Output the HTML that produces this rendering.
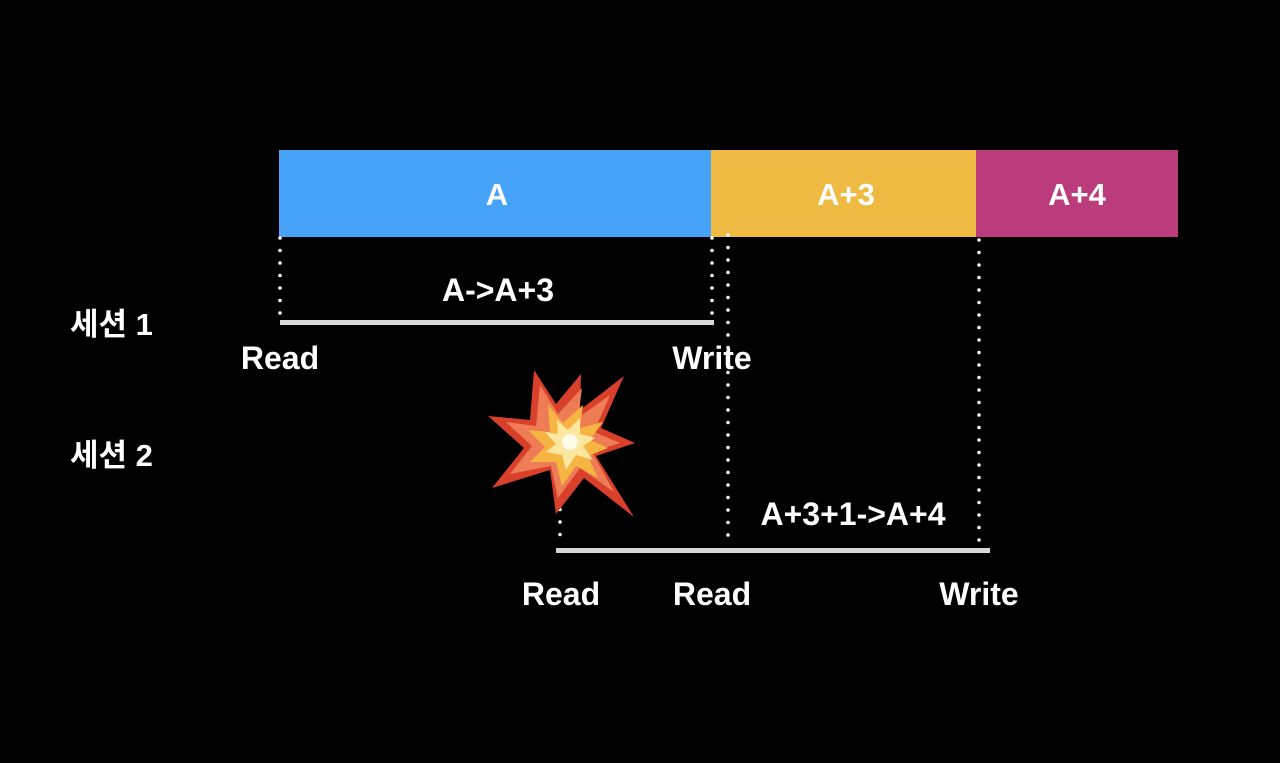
<!DOCTYPE html>
<html><head><meta charset="utf-8"><style>
html,body{margin:0;padding:0;background:#000;width:1280px;height:763px;overflow:hidden}
svg text{font-family:"Liberation Sans","Noto Sans CJK KR",sans-serif;font-weight:bold;fill:#fff}
</style></head><body>
<svg width="1280" height="763" viewBox="0 0 1280 763" xmlns="http://www.w3.org/2000/svg">
<rect x="279" y="150" width="432" height="87" fill="#47a3f7"/>
<rect x="711" y="150" width="265" height="87" fill="#efba41"/>
<rect x="976" y="150" width="202" height="87" fill="#bb3c7a"/>
<text x="497" y="205" font-size="31" text-anchor="middle">A</text>
<text x="846" y="205" font-size="31" text-anchor="middle">A+3</text>
<text x="1077" y="205" font-size="31" text-anchor="middle">A+4</text>
<g stroke="#fff" stroke-width="3.5" stroke-linecap="round" stroke-dasharray="0 12.5" fill="none">
<line x1="280" y1="238" x2="280" y2="318"/>
<line x1="712" y1="238" x2="712" y2="318"/>
<line x1="728" y1="235" x2="728" y2="541"/>
<line x1="979" y1="240" x2="979" y2="541"/>
<line x1="560" y1="497" x2="560" y2="541"/>
</g>
<rect x="280" y="320" width="434" height="5" fill="#eee" opacity="0.9"/>
<rect x="556" y="548" width="434" height="5" fill="#eee" opacity="0.9"/>
<text x="498" y="301" font-size="32" text-anchor="middle">A-&gt;A+3</text>
<text x="853" y="525" font-size="32" text-anchor="middle">A+3+1-&gt;A+4</text>
<text x="280" y="369" font-size="32" text-anchor="middle">Read</text>
<text x="712" y="369" font-size="32" text-anchor="middle">Write</text>
<text x="561" y="605" font-size="32" text-anchor="middle">Read</text>
<text x="712" y="605" font-size="32" text-anchor="middle">Read</text>
<text x="979" y="605" font-size="32" text-anchor="middle">Write</text>
<text x="70" y="335" font-size="31">세션 1</text>
<text x="70" y="466" font-size="31">세션 2</text>
<polygon fill="#d9402c" points="534,370 556,404 581,374 580,410 624,376 601,428 635,443 596,456 634,517 584,478 556,514 550,470 492,488 524,448 488,416 530,420"/>
<polygon fill="#ee7d55" points="540,385 558,414 582,388 578,418 610,395 594,432 620,443 592,452 614,492 580,468 558,498 551,466 510,474 532,446 506,422 536,426"/>
<polygon fill="#f6b443" points="548,405 563,423 583,405 580,428 603,422 590,440 608,448 588,456 598,478 576,466 562,486 556,462 530,462 545,447 528,430 550,432"/>
<polygon fill="#fbe7a0" points="557,420 568,430 580,418 580,434 595,438 583,446 593,460 576,455 566,470 562,455 546,452 556,444 545,432 558,434"/>
<circle cx="570" cy="442" r="8" fill="#fffbea"/>
</svg>
</body></html>
